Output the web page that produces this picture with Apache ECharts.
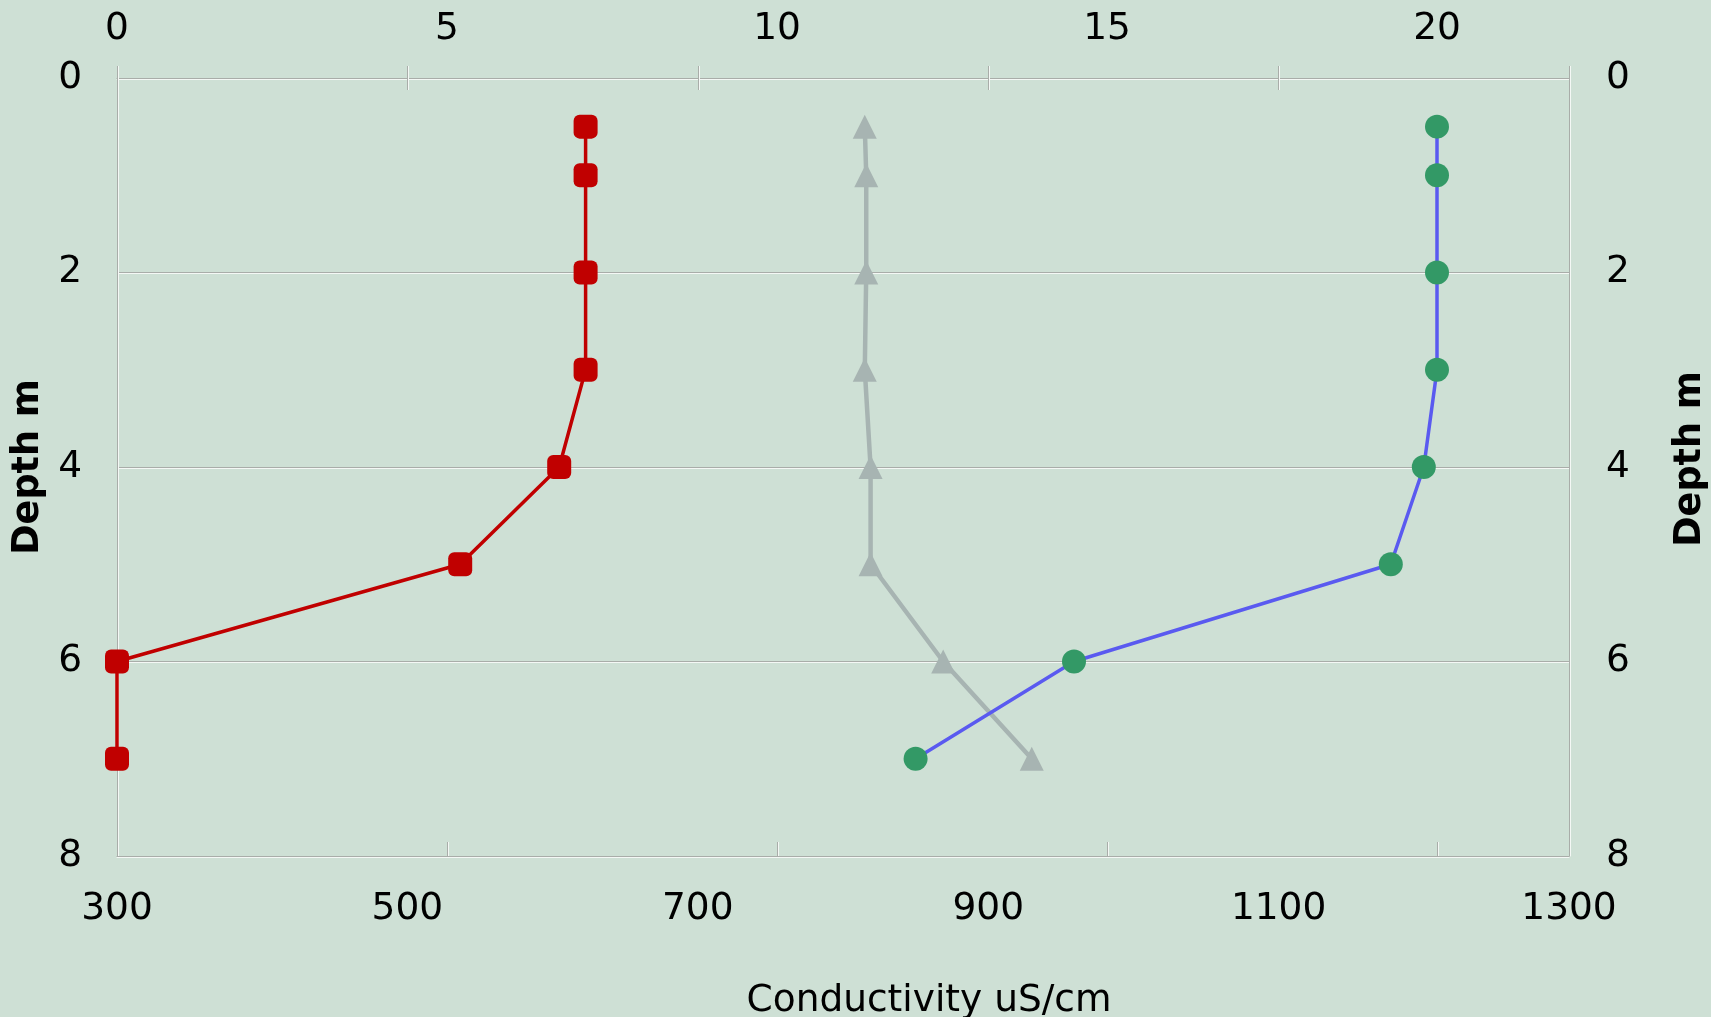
<!DOCTYPE html>
<html>
<head>
<meta charset="utf-8">
<script src="https://cdn.jsdelivr.net/npm/echarts@6/dist/echarts.min.js"></script>
<style>
  html, body { margin: 0; padding: 0; background: #cee0d5; }
  #chart { width: 1711px; height: 1017px; }
</style>
</head>
<body>
<div id="chart"></div>
<script>
// Depth profile: dissolved oxygen and temperature on the upper scale,
// conductivity on the lower scale.
const depths = [0.5, 1, 2, 3, 4, 5, 6, 7];
const oxygen = [7.1, 7.1, 7.1, 7.1, 6.7, 5.2, 0, 0];
const temperature = [20.0, 20.0, 20.0, 20.0, 19.8, 19.3, 14.5, 12.1];
const conductivity = [815, 816, 816, 815, 819, 819, 869, 930];

// Axis scales: [min, max, interval]
const condScale = [300, 1300, 200];
const upperScale = [0, 22, 5];
const depthScale = [0, 8, 2];

const FONT = 'DejaVu Sans';
const LINE = { color: '#a9ada9', width: 1, shadowColor: '#f4f8f5', shadowOffsetY: 1 };
const VLINE = { color: '#a9ada9', width: 1, shadowColor: '#f4f8f5', shadowOffsetX: 1 };
const labelStyle = { fontFamily: FONT, fontSize: 37.5, color: '#000', formatter: v => String(v) };
const nameStyle = { fontFamily: FONT, fontSize: 36.5, fontWeight: 'bold', color: '#000' };

function pairs(xs) { return xs.map((v, i) => [v, depths[i]]); }

function xBase(scale, position, extra) {
  return Object.assign({
    type: 'value', position: position,
    min: scale[0], max: scale[1], interval: scale[2],
    splitLine: { show: false },
    axisLine: { show: false, onZero: false },
    axisTick: { show: false },
    axisLabel: { show: false }
  }, extra);
}

const chart = echarts.init(document.getElementById('chart'), null, { renderer: 'canvas' });
chart.setOption({
  backgroundColor: '#cee0d5',
  animation: false,
  grid: { left: 117, right: 142, top: 78, bottom: 161, containLabel: false, outerBoundsMode: 'none' },
  xAxis: [
    // lower scale: conductivity labels and axis line
    xBase(condScale, 'bottom', {
      axisLine: { show: true, onZero: false, lineStyle: LINE },
      axisLabel: Object.assign({ show: true, margin: 34 }, labelStyle),
      name: 'Conductivity uS/cm', nameLocation: 'middle', nameGap: 126,
      nameTextStyle: { fontFamily: FONT, fontSize: 37.5, color: '#000', padding: [0, 0, 0, 172] }
    }),
    // upper scale: labels and axis line
    xBase(upperScale, 'top', {
      axisLine: { show: true, onZero: false, lineStyle: LINE },
      axisLabel: Object.assign({ show: true, margin: 30, showMaxLabel: false }, labelStyle)
    }),
    // crossing tick marks on the upper line
    xBase(condScale, 'top', { axisTick: { show: true, inside: false, length: 12, lineStyle: VLINE } }),
    xBase(condScale, 'top', { axisTick: { show: true, inside: true, length: 12, lineStyle: VLINE } }),
    // inward tick marks on the lower line
    xBase(upperScale, 'bottom', { axisTick: { show: true, inside: true, length: 14, lineStyle: VLINE } })
  ],
  yAxis: [
    {
      type: 'value', position: 'left', inverse: true,
      min: depthScale[0], max: depthScale[1], interval: depthScale[2],
      axisLine: { show: true, onZero: false, lineStyle: VLINE },
      axisTick: { show: false },
      axisLabel: Object.assign({ margin: 35 }, labelStyle),
      splitLine: { show: true, lineStyle: LINE },
      name: 'Depth m', nameLocation: 'middle', nameGap: 64, nameRotate: 90,
      nameTextStyle: nameStyle
    },
    {
      type: 'value', position: 'right', inverse: true,
      min: depthScale[0], max: depthScale[1], interval: depthScale[2],
      axisLine: { show: true, onZero: false, lineStyle: VLINE },
      axisTick: { show: false },
      axisLabel: Object.assign({ margin: 37 }, labelStyle),
      splitLine: { show: false },
      name: 'Depth m', nameLocation: 'middle', nameGap: 103, nameRotate: 90,
      nameTextStyle: Object.assign({ padding: [0, 0, 0, 16] }, nameStyle)
    }
  ],
  series: [
    {
      name: 'Conductivity', type: 'line', xAxisIndex: 0, yAxisIndex: 0,
      data: pairs(conductivity),
      symbol: 'triangle', symbolSize: 24,
      lineStyle: { color: '#a7b4b2', width: 4.5 },
      itemStyle: { color: '#a7b4b2' }
    },
    {
      name: 'Dissolved oxygen', type: 'line', xAxisIndex: 1, yAxisIndex: 0,
      data: pairs(oxygen),
      symbol: 'roundRect', symbolSize: 24,
      lineStyle: { color: '#c00000', width: 3.5 },
      itemStyle: { color: '#c00000' }
    },
    {
      name: 'Temperature', type: 'line', xAxisIndex: 1, yAxisIndex: 0,
      data: pairs(temperature),
      symbol: 'circle', symbolSize: 24,
      lineStyle: { color: '#5a5af0', width: 3.5 },
      itemStyle: { color: '#339966' }
    }
  ]
});
</script>
</body>
</html>
